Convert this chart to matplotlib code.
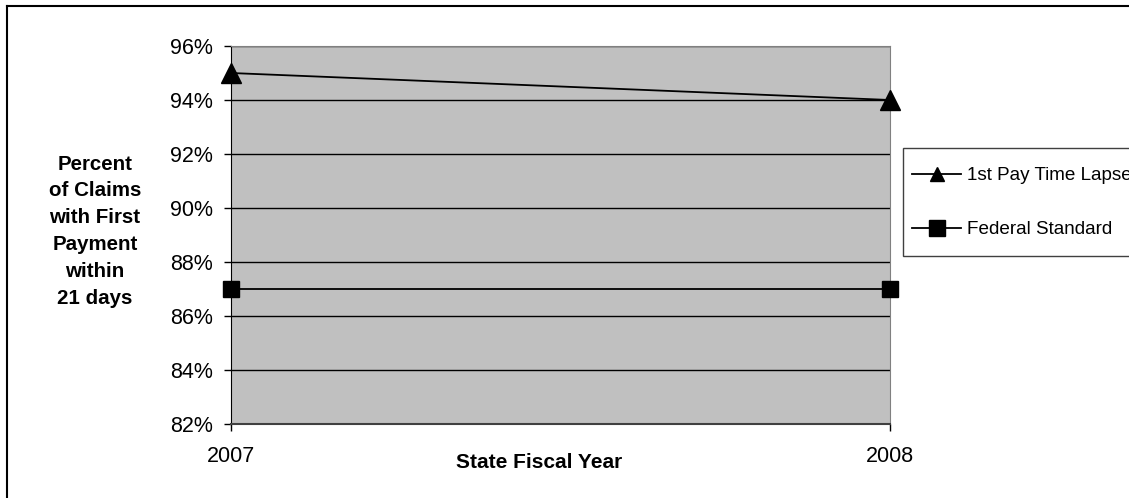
import matplotlib
matplotlib.use("Agg")
import matplotlib.pyplot as plt
from matplotlib.lines import Line2D
from matplotlib.patches import Rectangle
from matplotlib.ticker import FuncFormatter

plt.rcParams['font.family'] = ['Liberation Sans', 'DejaVu Sans']

# Dados
years = [2007, 2008]
first_pay = [95, 94]
federal_std = [87, 87]
y_ticks = [82, 84, 86, 88, 90, 92, 94, 96]

W, H = 1129, 498
fig = plt.figure(figsize=(W / 100, H / 100), dpi=100)
ax = fig.add_axes([231 / W, 1 - 424 / H, (890 - 231) / W, (424 - 46) / H])
ax.set_facecolor('#C0C0C0')

ax.plot(years, first_pay, color='black', lw=1.3, marker='^', markersize=14,
        clip_on=False, zorder=5, label='1st Pay Time Lapse')
ax.plot(years, federal_std, color='black', lw=1.3, marker='s', markersize=12,
        clip_on=False, zorder=5, label='Federal Standard')

ax.set_xlim(2007, 2008)
ax.set_ylim(82, 96)
ax.set_yticks(y_ticks)
ax.yaxis.set_major_formatter(FuncFormatter(lambda v, p: f'{v:.0f}%'))
ax.set_xticks(years)
ax.set_xticklabels([str(y) for y in years])
ax.grid(axis='y', color='black', lw=1)
ax.set_axisbelow(True)
ax.tick_params(axis='y', direction='out', length=5, width=1, pad=8, labelsize=15.5)
ax.tick_params(axis='x', direction='out', length=5, width=1, pad=11, labelsize=15.5)

ax.spines['left'].set_color('black')
ax.spines['bottom'].set_color('#404040')
ax.spines['bottom'].set_linewidth(1.5)
ax.spines['top'].set_color('#808080')
ax.spines['right'].set_color('#808080')

fig.text(539 / W, 1 - 462 / H, 'State Fiscal Year', ha='center', va='center',
         fontsize=15, fontweight='bold')
fig.text(95 / W, 1 - 231 / H, 'Percent\nof Claims\nwith First\nPayment\nwithin\n21 days',
         ha='center', va='center', fontsize=14.8, fontweight='bold', linespacing=1.52)

# legenda: moldura desenhada à parte, cortada na borda direita
fig.add_artist(Rectangle((903 / W, 1 - 256 / H), (1140 - 903) / W, (256 - 148) / H,
                         transform=fig.transFigure, facecolor='white',
                         edgecolor='#404040', lw=1, zorder=-1))
handles, labels = ax.get_legend_handles_labels()
leg = fig.legend(handles, labels, loc='upper left', bbox_to_anchor=(912 / W, 1 - 167 / H),
                 bbox_transform=fig.transFigure, fontsize=13.6, frameon=False,
                 borderpad=0, labelspacing=1.95, handlelength=2.6, handletextpad=0.3,
                 borderaxespad=0)
leg.set_zorder(5)
hs = leg.legend_handles
hs[0].set_markersize(10)
hs[1].set_markersize(11)

# moldura externa (só esquerda e topo visíveis)
fig.add_artist(Line2D([7 / W, 7 / W], [0, 1 - 6 / H], transform=fig.transFigure,
                      color='black', lw=1.5))
fig.add_artist(Line2D([7 / W, 1], [1 - 6 / H, 1 - 6 / H], transform=fig.transFigure,
                      color='black', lw=1.5))

fig.savefig('out.png', dpi=100)
